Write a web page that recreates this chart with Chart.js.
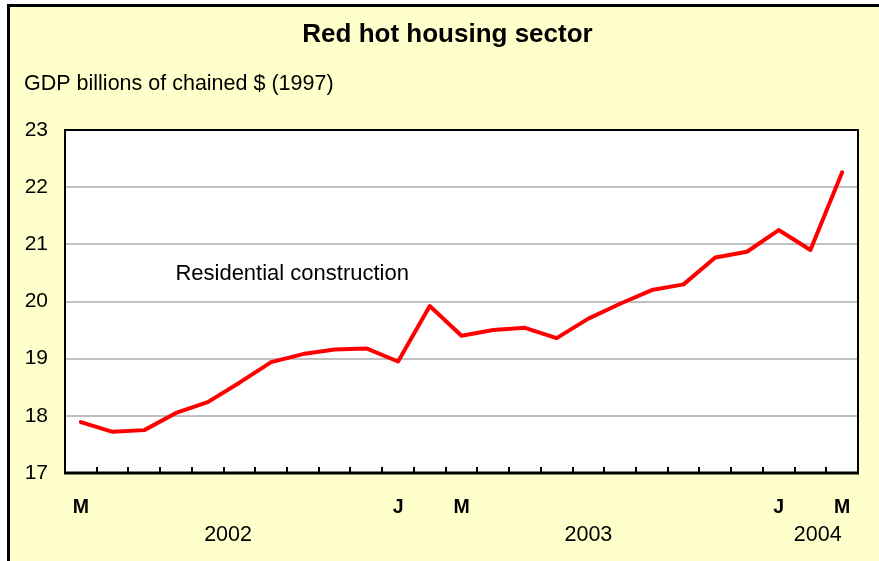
<!DOCTYPE html>
<html>
<head>
<meta charset="utf-8">
<script src="https://cdn.jsdelivr.net/npm/chart.js@4"></script>
<style>
  html, body { margin: 0; padding: 0; background: #ffffff; }
  #wrap { width: 879px; height: 561px; }
</style>
</head>
<body>
<div id="wrap"><canvas id="housingChart" width="879" height="561"></canvas></div>
<script>
// monthly points, Mar 2002 .. Mar 2004
const months = ['Mar 2002', 'Apr 2002', 'May 2002', 'Jun 2002', 'Jul 2002', 'Aug 2002', 'Sep 2002', 'Oct 2002', 'Nov 2002', 'Dec 2002',
    'Jan 2003', 'Feb 2003', 'Mar 2003', 'Apr 2003', 'May 2003', 'Jun 2003', 'Jul 2003', 'Aug 2003', 'Sep 2003', 'Oct 2003', 'Nov 2003', 'Dec 2003',
    'Jan 2004', 'Feb 2004', 'Mar 2004'];
const tickLabels = ['M', '', '', '', '', '', '', '', '', '',
    'J', '', 'M', '', '', '', '', '', '', '', '', '',
    'J', '', 'M'];
const residential = [17.89, 17.72, 17.75, 18.05, 18.24, 18.58, 18.94, 19.08, 19.16, 19.18,
    18.95, 19.92, 19.40, 19.50, 19.54, 19.36, 19.70, 19.96, 20.20, 20.30, 20.77, 20.87,
    21.25, 20.90, 22.26];
const yearLabels = ['2002', '2003', '2004'];
const yearCentres = [4.64, 16.0, 23.23];   // category index under each year
const yTicks = [17, 18, 19, 20, 21, 22, 23];

const FONT = "'Liberation Sans', Arial, sans-serif";

// yellow panel with a black edge on top and left
const panel = {
    id: 'panel',
    beforeDraw(chart) {
        const c = chart.ctx;
        c.save();
        c.fillStyle = '#ffffcc';
        c.fillRect(8, 5, chart.width - 8, chart.height - 5);
        c.fillStyle = '#000000';
        c.fillRect(7, 4, chart.width - 7, 3);
        c.fillRect(7, 4, 3, chart.height - 4);
        const a = chart.chartArea;
        c.fillStyle = '#ffffff';
        c.fillRect(a.left, a.top, a.right - a.left, a.bottom - a.top);
        c.restore();
    }
};

// plot frame, inner tick marks, annotation and year labels
const extras = {
    id: 'extras',
    afterDraw(chart) {
        const c = chart.ctx;
        const a = chart.chartArea;
        const x = chart.scales.x;
        const y = chart.scales.y;
        c.save();
        c.strokeStyle = '#000000';
        c.lineWidth = 2;
        c.strokeRect(a.left, a.top, a.right - a.left, a.bottom - a.top);
        c.lineWidth = 3;
        c.beginPath();
        c.moveTo(a.left - 1, a.bottom);
        c.lineTo(a.right + 1, a.bottom);
        c.stroke();
        c.lineWidth = 2;
        c.beginPath();
        for (let i = 1; i < months.length; i++) {
            const px = Math.round((x.getPixelForValue(i - 1) + x.getPixelForValue(i)) / 2);
            c.moveTo(px, a.bottom);
            c.lineTo(px, a.bottom - 6);
        }
        c.stroke();

        c.fillStyle = '#000000';
        c.font = '22px ' + FONT;
        c.textAlign = 'left';
        c.textBaseline = 'middle';
        c.fillText('Residential construction', x.getPixelForValue(2.98), y.getPixelForValue(20.49));

        c.font = '21.5px ' + FONT;
        c.textAlign = 'center';
        yearLabels.forEach((t, i) => {
            c.fillText(t, x.getPixelForValue(yearCentres[i]), 535);
        });
        c.restore();
    }
};

const ctx = document.getElementById('housingChart').getContext('2d');
const housingChart = new Chart(ctx, {
    type: 'line',
    data: {
        labels: months,
        datasets: [
            {
                label: 'Residential construction',
                data: residential,
                borderColor: '#ff0000',
                backgroundColor: 'transparent',
                borderWidth: 4,
                pointRadius: 0,
                tension: 0,
                borderJoinStyle: 'round',
                borderCapStyle: 'round'
            }
        ]
    },
    options: {
        responsive: false,
        animation: false,
        layout: {
            padding: { left: 24, right: 8, top: 0, bottom: 0 }
        },
        plugins: {
            legend: { display: false },
            tooltip: { enabled: false },
            title: {
                display: true,
                text: 'Red hot housing sector',
                color: '#000000',
                font: { family: FONT, size: 26, weight: 'bold' },
                padding: { top: 19, bottom: 21 }
            },
            subtitle: {
                display: true,
                text: 'GDP billions of chained $ (1997)',
                align: 'start',
                color: '#000000',
                font: { family: FONT, size: 21.5 },
                padding: { top: 0, bottom: 33 }
            }
        },
        scales: {
            x: {
                offset: true,
                grid: { display: false, offset: true },
                border: { display: false },
                ticks: {
                    autoSkip: false,
                    maxRotation: 0,
                    color: '#000000',
                    padding: 15,
                    font: { family: FONT, size: 19.5, weight: 'bold' },
                    callback: (v, i) => tickLabels[i]
                },
                afterFit: s => { s.height = 88; }
            },
            y: {
                min: 17,
                max: 23,
                afterBuildTicks: s => { s.ticks = yTicks.map(v => ({ value: v })); },
                grid: { color: '#c0c0c0', lineWidth: 2, drawTicks: false },
                border: { display: false },
                ticks: {
                    color: '#000000',
                    padding: 17,
                    font: { family: FONT, size: 21 }
                },
                afterFit: s => { s.width = 41; }
            },
            spacer: {
                type: 'linear',
                position: 'right',
                grid: { display: false },
                border: { display: false },
                ticks: { display: false },
                afterFit: s => { s.width = 13; }
            }
        }
    },
    plugins: [panel, extras]
});
</script>
</body>
</html>
